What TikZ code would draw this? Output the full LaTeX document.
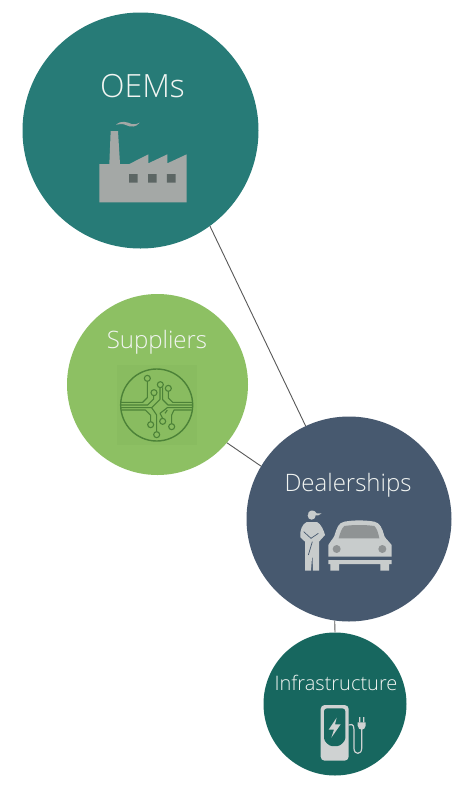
\documentclass[tikz,border=0pt]{standalone}
\usepackage{fontspec}
\setmainfont{Open Sans}[UprightFont=* Light]
\definecolor{oemc}{HTML}{277B77}
\definecolor{supc}{HTML}{8DC063}
\definecolor{dealc}{HTML}{47596F}
\definecolor{infc}{HTML}{17675F}
\definecolor{facg}{HTML}{A4A8A6}
\definecolor{winc}{HTML}{5C6664}
\definecolor{trace}{HTML}{4C8238}
\definecolor{carg}{HTML}{C8CCCC}
\definecolor{card}{HTML}{8F9394}
\definecolor{plugg}{HTML}{CFD2D2}
\definecolor{txtc}{HTML}{F2F5F2}
\definecolor{supsq}{HTML}{89BC60}
\tikzset{
  hub/.style={circle,inner sep=0pt,minimum size=#1},
  lab/.style={text=txtc,inner sep=0pt,anchor=base},
  link/.style={draw=black!65,line width=.9pt},
  tr/.style={draw=trace,line width=1.1pt,line join=round},
  pad/.style={draw=trace,line width=1.1pt,fill=supsq},
  zoomA/.style={shift={(#1)},scale=1/3}
}
\begin{document}
\begin{tikzpicture}[x=1pt,y=-1pt]
\useasboundingbox[fill=white] (0,0) rectangle (462,788);
\node[hub=236pt,fill=oemc] (oem) at (140.5,130.5) {};
\node[hub=181pt,fill=supc] (sup) at (157.5,384.5) {};
\node[hub=205pt,fill=dealc] (deal) at (349,519) {};
\node[hub=143pt,fill=infc] (inf) at (335,704) {};
\draw[link] (oem.-54) -- (deal.115);
\draw[link] (sup.-40) -- (deal.149);
\draw[link] (deal.-98) -- (inf.90);
\node[lab,font=\fontsize{32}{32}\selectfont] (t1) at (142.5,97.5) {OEMs};
\node[lab,font=\fontsize{24}{26}\selectfont] (t2) at (157,348) {Suppliers};
\node[lab,font=\fontsize{24}{26}\selectfont] (t3) at (348,491) {Dealerships};
\node[lab,font=\fontsize{20}{22}\selectfont] (t4) at (336,690) {Infrastructure};
% factory
\begin{scope}[zoomA={80,100}]
\fill[facg] (58,192) -- (88,192) -- (92,93) -- (114,93) -- (120,192) -- (148,192) -- (205,163) -- (205,190) -- (262,163) -- (262,190) -- (320,163) -- (320,307) -- (58,307) -- cycle;
\fill[winc] (147,222) rectangle (173,248) (204,222) rectangle (230,248) (261,222) rectangle (287,248);
\fill[facg] (108,74) .. controls (125,60) and (140,66) .. (155,72) .. controls (165,74) and (172,72) .. (179,68) .. controls (170,82) and (150,82) .. (140,76) .. controls (128,70) and (118,72) .. (108,74) -- cycle;
\end{scope}
% circuit
\begin{scope}[zoomA={110,360}]
\fill[supsq] (22,14) rectangle (262,256);
\draw[tr,line width=1.4pt] (140,135) circle (108);
\draw[tr] (33,127) -- (98,127) -- (112,113) -- (112,64);
\draw[tr] (32,135) -- (113,135) -- (131,117) -- (131,107);
\draw[tr] (33,143) -- (125,143) -- (150,118) -- (150,83);
\draw[tr] (35,150) -- (106,150) -- (122,166) -- (122,185);
\draw[tr] (247,127) -- (188,127) -- (175,114) -- (175,94);
\draw[tr] (248,135) -- (174,135) -- (158,119) -- (158,82);
\draw[tr] (247,143) -- (172,143) -- (150,160) -- (158,175);
\draw[tr] (245,150) -- (192,150) -- (185,165) -- (185,191);
\draw[tr] (125,143) -- (140,165) -- (140,215);
\draw[tr] (172,150) -- (165,160);
\node[circle,pad,minimum size=6pt,inner sep=0pt] (p1) at (112,55) {};
\node[circle,pad,minimum size=6pt,inner sep=0pt] (p2) at (132,98) {};
\node[circle,pad,minimum size=6pt,inner sep=0pt] (p3) at (151,74) {};
\node[circle,pad,minimum size=6pt,inner sep=0pt] (p4) at (175,85) {};
\node[circle,pad,minimum size=6pt,inner sep=0pt] (p5) at (122,194) {};
\node[circle,pad,minimum size=6pt,inner sep=0pt] (p6) at (140,224) {};
\node[circle,pad,minimum size=6pt,inner sep=0pt] (p7) at (158,184) {};
\node[circle,pad,minimum size=6pt,inner sep=0pt] (p8) at (185,200) {};
\end{scope}
% person and car
\begin{scope}[zoomA={295,500}]
% car
\fill[carg] (100,170) -- (100,135) .. controls (104,125) and (112,120) .. (118,108) .. controls (125,85) and (130,68) .. (148,65) .. controls (175,60) and (210,60) .. (238,65) .. controls (255,68) and (262,85) .. (268,108) .. controls (274,120) and (284,125) .. (290,135) -- (290,170) -- cycle;
\fill[carg] (100,180) -- (290,180) -- (290,192) -- (282,192) -- (282,212) -- (256,212) -- (256,192) -- (132,192) -- (132,212) -- (106,212) -- (106,192) -- (100,192) -- cycle;
\fill[card] (131,115) -- (253,115) .. controls (250,100) and (246,85) .. (238,78) .. controls (210,74) and (175,74) .. (148,78) .. controls (140,85) and (135,100) .. (131,115) -- cycle;
\fill[card] (125,147) circle (12) (262,147) circle (12);
% person
\fill[carg] (50,47) circle (12);
\fill[carg] (40,38) .. controls (45,28) and (60,30) .. (65,40) -- (80,40) -- (70,46) -- (42,46) -- cycle;
\fill[carg] (35,66) -- (66,66) .. controls (78,72) and (86,90) .. (90,105) -- (72,125) -- (72,212) -- (54,212) -- (52,160) -- (48,212) -- (30,212) -- (30,125) -- (16,112) .. controls (14,90) and (22,72) .. (35,66) -- cycle;
\draw[dealc,line width=.7pt] (26,95) -- (48,115) -- (70,100);
\draw[dealc,line width=.7pt] (52,125) -- (40,165);
\end{scope}
% charger
\begin{scope}[zoomA={310,695}]
\fill[plugg,rounded corners=4pt] (32,30) -- (116,30) -- (116,197) -- (32,197) -- cycle;
\fill[infc,rounded corners=3pt] (42,40) -- (106,40) -- (106,120) .. controls (106,140) and (90,153) .. (74,153) .. controls (58,153) and (42,140) .. (42,120) -- cycle;
\fill[plugg] (80,68) -- (56,104) -- (72,104) -- (64,128) -- (92,88) -- (75,88) -- cycle;
\draw[plugg,line width=1.2pt] (116,90) .. controls (132,84) and (132,95) .. (132,115) -- (132,160) .. controls (132,180) and (155,180) .. (155,160) -- (155,102);
\fill[plugg] (143,82) -- (167,82) -- (167,92) .. controls (167,100) and (160,104) .. (155,104) .. controls (150,104) and (143,100) .. (143,92) -- cycle;
\fill[plugg] (147,66) rectangle (151,82) (159,66) rectangle (163,82);
\end{scope}
\end{tikzpicture}
\end{document}
